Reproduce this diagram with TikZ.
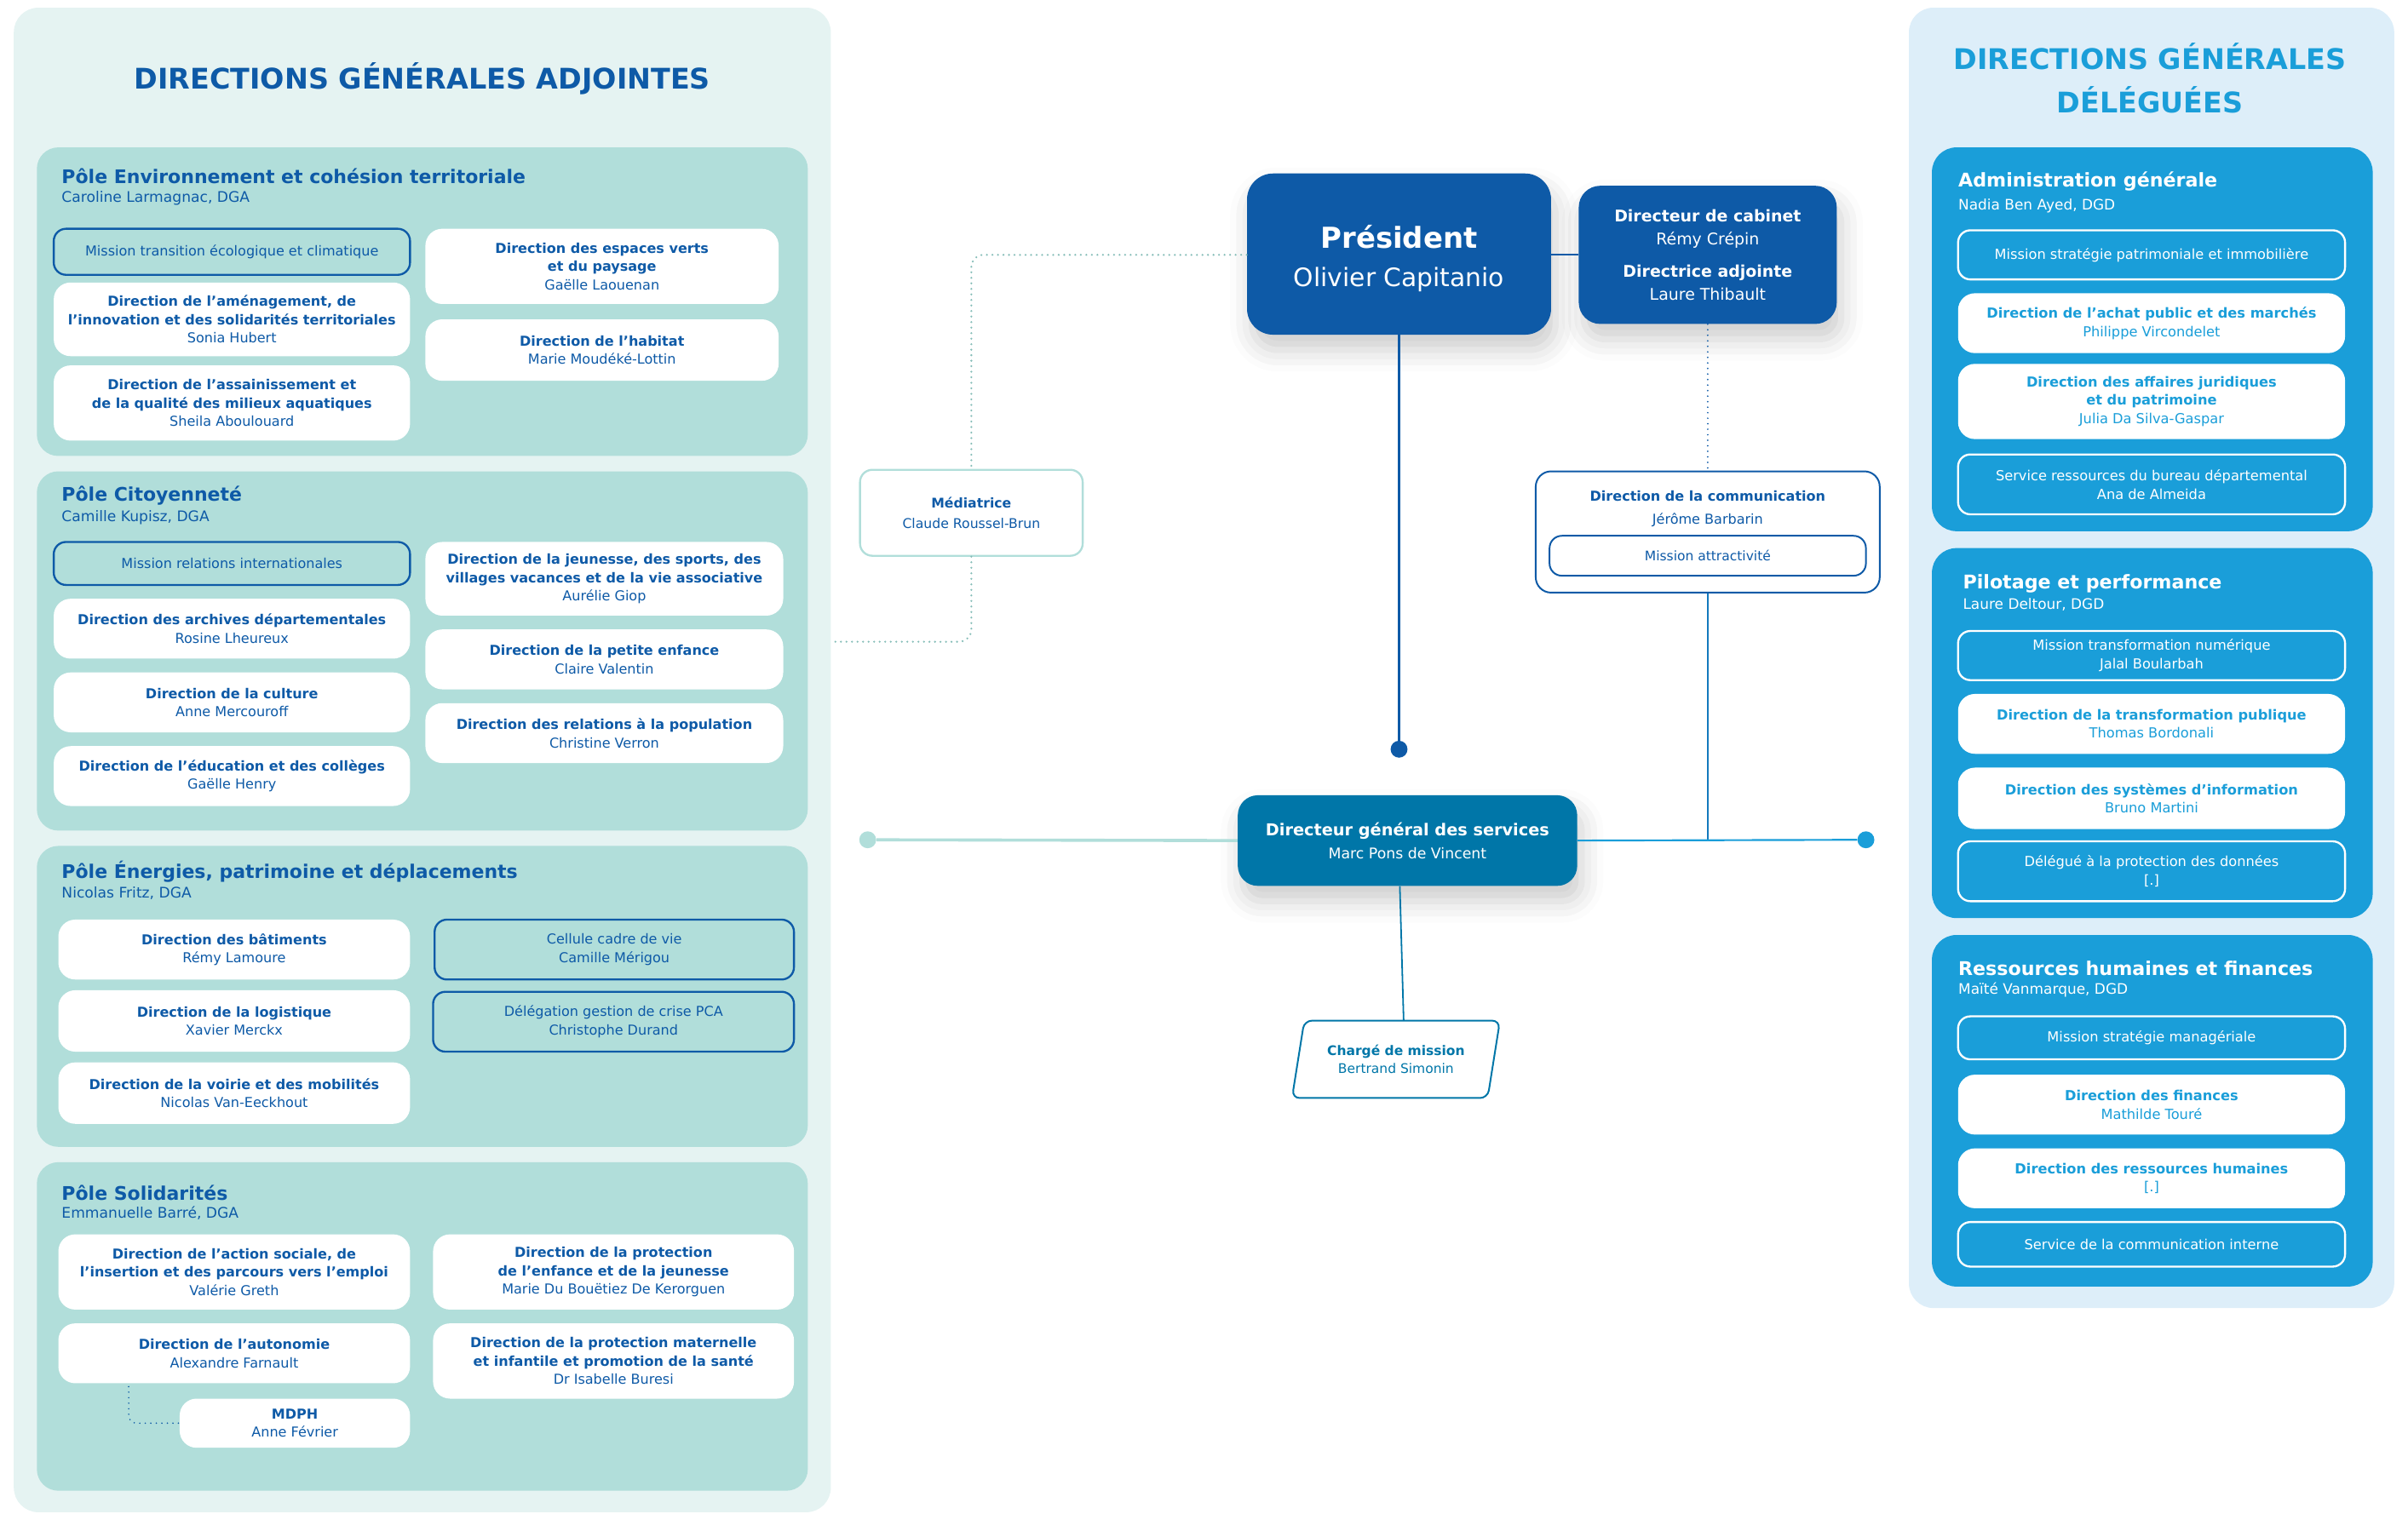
\documentclass[tikz,border=0pt]{standalone}
\usepackage{fontspec}
\setmainfont{DejaVu Sans}
\usetikzlibrary{calc,shadows.blur}
\definecolor{dgablue}{HTML}{0E5AA7}
\definecolor{dgateal}{HTML}{B1DEDA}
\definecolor{dgapale}{HTML}{E5F3F2}
\definecolor{dgdblue}{HTML}{1A9ED9}
\definecolor{dgdpale}{HTML}{DDEEF9}
\definecolor{dgsblue}{HTML}{0076A8}
\definecolor{dotgrey}{HTML}{86BDB8}
\newcommand{\fsz}[1]{\fontsize{#1}{12}\selectfont}

\begin{document}
\begin{tikzpicture}[x=1pt, y=-1pt,
  sz/.style 2 args={minimum width=#1pt, minimum height=#2pt},
  panel/.style={rounded corners=16pt, inner sep=0pt},
  pole/.style={panel, fill=dgateal, rounded corners=14pt},
  dgabox/.style={fill=white, rounded corners=11pt, text=dgablue, align=center, font=\fsz{8.9}, inner sep=0pt},
  dgamis/.style={dgabox, fill=dgateal, draw=dgablue, line width=1.3pt, rounded corners=8pt},
  dgdbox/.style={dgabox, text=dgdblue, font=\fsz{9}},
  dgdmis/.style={dgdbox, fill=none, draw=white, text=white, line width=1.3pt, rounded corners=8pt},
  poletitle/.style={anchor=west, inner sep=0pt, text=dgablue, font=\bfseries\fsz{12.2}},
  polesub/.style={poletitle, font=\fsz{9.5}},
  rtitle/.style={poletitle, text=white, font=\bfseries\fsz{12.3}},
  rsub/.style={poletitle, text=white, font=\fsz{9.4}},
  head/.style={fill=dgablue, text=white, align=center, inner sep=0pt, rounded corners=14pt,
    blur shadow={shadow xshift=3pt, shadow yshift=-10pt, shadow blur radius=14pt, shadow opacity=20}},
  link/.style={line width=1.2pt},
  dotlink/.style={line width=1.4pt, line cap=round, dash pattern=on 0pt off 3.6pt},
  knob/.style={circle, inner sep=0pt, minimum size=11pt}]
\useasboundingbox (0,0) rectangle (1568,986);

% directions generales adjointes
\node[panel, fill=dgapale, sz={532}{980}] (dga) at (275,495) {};
\node[text=dgablue, font=\bfseries\fsz{18.5}] (dgat) at (275,51) {DIRECTIONS GÉNÉRALES ADJOINTES};
\coordinate (dgaedge) at (541,418);

\node[pole, sz={502}{201}] (pol1) at (275,196.5) {};
\node[poletitle] (pol1t) at (40,115) {Pôle Environnement et cohésion territoriale};
\node[polesub] (pol1s) at (40,129) {Caroline Larmagnac, DGA};
\node[dgamis, sz={232}{30}] (m1) at (151,164) {Mission transition écologique et climatique};
\node[dgabox, sz={232}{48}] (a1) at (151,208) {\textbf{Direction de l’aménagement, de}\\\textbf{l’innovation et des solidarités territoriales}\\Sonia Hubert};
\node[dgabox, sz={232}{49}] (a2) at (151,262.5) {\textbf{Direction de l’assainissement et}\\\textbf{de la qualité des milieux aquatiques}\\Sheila Aboulouard};
\node[dgabox, sz={230}{49}] (a3) at (392,173.5) {\textbf{Direction des espaces verts}\\\textbf{et du paysage}\\Gaëlle Laouenan};
\node[dgabox, sz={230}{40}] (a4) at (392,228) {\textbf{Direction de l’habitat}\\Marie Moudéké-Lottin};

\node[pole, sz={502}{234}] (pol2) at (275,424) {};
\node[poletitle] (pol2t) at (40,323) {Pôle Citoyenneté};
\node[polesub] (pol2s) at (40,337) {Camille Kupisz, DGA};
\node[dgamis, sz={232}{28}] (m2) at (151,367) {Mission relations internationales};
\node[dgabox, sz={232}{39}] (b1) at (151,409.5) {\textbf{Direction des archives départementales}\\Rosine Lheureux};
\node[dgabox, sz={232}{39}] (b2) at (151,457.5) {\textbf{Direction de la culture}\\Anne Mercouroff};
\node[dgabox, sz={232}{39}] (b3) at (151,505.5) {\textbf{Direction de l’éducation et des collèges}\\Gaëlle Henry};
\node[dgabox, sz={233}{48}] (b4) at (393.5,377) {\textbf{Direction de la jeunesse, des sports, des}\\\textbf{villages vacances et de la vie associative}\\Aurélie Giop};
\node[dgabox, sz={233}{39}] (b5) at (393.5,429.5) {\textbf{Direction de la petite enfance}\\Claire Valentin};
\node[dgabox, sz={233}{39}] (b6) at (393.5,477.5) {\textbf{Direction des relations à la population}\\Christine Verron};

\node[pole, sz={502}{196}] (pol3) at (275,649) {};
\node[poletitle] (pol3t) at (40,568) {Pôle Énergies, patrimoine et déplacements};
\node[polesub] (pol3s) at (40,582) {Nicolas Fritz, DGA};
\node[dgabox, sz={229}{39}] (c1) at (152.5,618.5) {\textbf{Direction des bâtiments}\\Rémy Lamoure};
\node[dgabox, sz={229}{40}] (c2) at (152.5,665) {\textbf{Direction de la logistique}\\Xavier Merckx};
\node[dgabox, sz={229}{40}] (c3) at (152.5,712) {\textbf{Direction de la voirie et des mobilités}\\Nicolas Van-Eeckhout};
\node[dgamis, sz={234}{39}] (c4) at (400,618.5) {Cellule cadre de vie\\Camille Mérigou};
\node[dgamis, sz={235}{39}] (c5) at (399.5,665.5) {Délégation gestion de crise PCA\\Christophe Durand};

\node[pole, sz={502}{214}] (pol4) at (275,864) {};
\node[poletitle] (pol4t) at (40,777) {Pôle Solidarités};
\node[polesub] (pol4s) at (40,790) {Emmanuelle Barré, DGA};
\node[dgabox, sz={229}{49}] (d1) at (152.5,828.5) {\textbf{Direction de l’action sociale, de}\\\textbf{l’insertion et des parcours vers l’emploi}\\Valérie Greth};
\node[dgabox, sz={229}{39}] (d2) at (152.5,881.5) {\textbf{Direction de l’autonomie}\\Alexandre Farnault};
\node[dgabox, sz={150}{32}] (d3) at (192,927) {\textbf{MDPH}\\Anne Février};
\node[dgabox, sz={235}{49}] (d4) at (399.5,828.5) {\textbf{Direction de la protection}\\\textbf{de l’enfance et de la jeunesse}\\Marie Du Bouëtiez De Kerorguen};
\node[dgabox, sz={235}{49}] (d5) at (399.5,886.5) {\textbf{Direction de la protection maternelle}\\\textbf{et infantile et promotion de la santé}\\Dr Isabelle Buresi};
\draw[dotlink, dgablue, line width=1pt, rounded corners=5pt] ($(d2.south west)+(46,2)$) |- (d3.west);

% directions generales deleguees
\node[panel, fill=dgdpale, sz={316}{847}] (dgd) at (1401,428.5) {};
\node[text=dgdblue, align=center, font=\bfseries\fontsize{18.5}{28}\selectfont] (dgdt) at (1400,51) {DIRECTIONS GÉNÉRALES\\DÉLÉGUÉES};

\node[pole, fill=dgdblue, rounded corners=16pt, sz={287}{250}] (adm) at (1401.5,221) {};
\node[rtitle] (admt) at (1275,118) {Administration générale};
\node[rsub] (adms) at (1275,134) {Nadia Ben Ayed, DGD};
\node[dgdmis, sz={252}{32}] (e1) at (1401,166) {Mission stratégie patrimoniale et immobilière};
\node[dgdbox, sz={252}{39}] (e2) at (1401,210.5) {\textbf{Direction de l’achat public et des marchés}\\Philippe Vircondelet};
\node[dgdbox, sz={252}{49}] (e3) at (1401,261.5) {\textbf{Direction des affaires juridiques}\\\textbf{et du patrimoine}\\Julia Da Silva-Gaspar};
\node[dgdmis, sz={252}{39}] (e4) at (1401,315.5) {Service ressources du bureau départemental\\Ana de Almeida};

\node[pole, fill=dgdblue, rounded corners=16pt, sz={287}{241}] (pil) at (1401.5,477.5) {};
\node[rtitle] (pilt) at (1278,380) {Pilotage et performance};
\node[rsub] (pils) at (1278,394) {Laure Deltour, DGD};
\node[dgdmis, sz={252}{32}] (f1) at (1401,427) {Mission transformation numérique\\Jalal Boularbah};
\node[dgdbox, sz={252}{39}] (f2) at (1401,471.5) {\textbf{Direction de la transformation publique}\\Thomas Bordonali};
\node[dgdbox, sz={252}{40}] (f3) at (1401,520) {\textbf{Direction des systèmes d’information}\\Bruno Martini};
\node[dgdmis, sz={252}{39}] (f4) at (1401,567.5) {Délégué à la protection des données\\{[.]}};

\node[pole, fill=dgdblue, rounded corners=16pt, sz={287}{229}] (rhf) at (1401.5,723.5) {};
\node[rtitle] (rhft) at (1275,631) {Ressources humaines et finances};
\node[rsub] (rhfs) at (1275,645) {Maïté Vanmarque, DGD};
\node[dgdmis, sz={252}{28}] (g1) at (1401,676) {Mission stratégie managériale};
\node[dgdbox, sz={252}{39}] (g2) at (1401,719.5) {\textbf{Direction des finances}\\Mathilde Touré};
\node[dgdbox, sz={252}{39}] (g3) at (1401,767.5) {\textbf{Direction des ressources humaines}\\{[.]}};
\node[dgdmis, sz={252}{29}] (g4) at (1401,810.5) {Service de la communication interne};

% centre
\node[head, rounded corners=17pt, sz={198}{105}, font=\fontsize{18.8}{24}\selectfont] (pres) at (911,165.5) {\rule{0pt}{21pt}\textbf{Président}\\[1pt]\fontsize{16.5}{24}\selectfont Olivier Capitanio};
\node[head, sz={168}{90}, font=\fontsize{10.5}{15}\selectfont] (cab) at (1112,166) {\textbf{Directeur de cabinet}\\Rémy Crépin\\[6pt]\textbf{Directrice adjointe}\\Laure Thibault};
\node[dgabox, draw=dgateal, line width=1.3pt, rounded corners=8pt, sz={145}{56}, font=\fontsize{8.7}{13}\selectfont] (med) at (632.5,334) {\textbf{Médiatrice}\\Claude Roussel-Brun};
\node[dgabox, draw=dgablue, line width=1.1pt, rounded corners=10pt, sz={224}{79}] (com) at (1112,346.5) {};
\node[text=dgablue, align=center, inner sep=0pt, font=\fontsize{8.9}{15}\selectfont] (comtxt) at (1112,331.5) {\textbf{Direction de la communication}\\Jérôme Barbarin};
\node[dgabox, draw=dgablue, line width=1.1pt, rounded corners=8pt, sz={206}{26}, font=\fsz{8.6}] (mat) at (1112,362) {Mission attractivité};
\node[head, fill=dgsblue, rounded corners=13pt, sz={221}{59}, font=\fontsize{10.7}{15}\selectfont] (dgs) at (916.5,547.5) {\textbf{Directeur général des services}\\\fontsize{9.6}{15}\selectfont Marc Pons de Vincent};
\node[text=dgsblue, align=center, inner sep=0pt, font=\fsz{8.6}, sz={127}{50}] (charge) at (909,690) {\textbf{Chargé de mission}\\Bertrand Simonin};
\draw[dgsblue, line width=1.1pt, rounded corners=5pt] ($(charge.south west)+(-4,0)$) -- ($(charge.north west)+(4,0)$) -- ($(charge.north east)+(4,0)$) -- ($(charge.south east)+(-4,0)$) -- cycle;
\node[knob, fill=dgablue] (dotP) at (911,488) {};
\node[knob, fill=dgateal] (dotL) at (565,547) {};
\node[knob, fill=dgdblue] (dotR) at (1215,547) {};

\draw[link, dgablue] (pres.east |- cab.west) -- (cab.west);
\draw[link, dgablue] (pres.south) -- (dotP);
\draw[dotlink, dotgrey, rounded corners=8pt] (pres.west |- cab.west) -| (med.north);
\draw[dotlink, dotgrey, rounded corners=8pt] (med.south) |- (dgaedge);
\draw[dotlink, dgablue, line width=1.1pt] (cab.south) -- (com.north);
\draw[link, dgablue!55!dgdblue] (com.south) -- (com.south |- dgs.east);
\draw[line width=2pt, dgateal] (dgs.west) -- (dotL);
\draw[link, dgdblue] (dgs.east) -- (dotR);
\draw[link, dgsblue, line width=1pt] ([xshift=-5pt]dgs.south) -- ($(charge.north)+(5,0)$);
\end{tikzpicture}
\end{document}
